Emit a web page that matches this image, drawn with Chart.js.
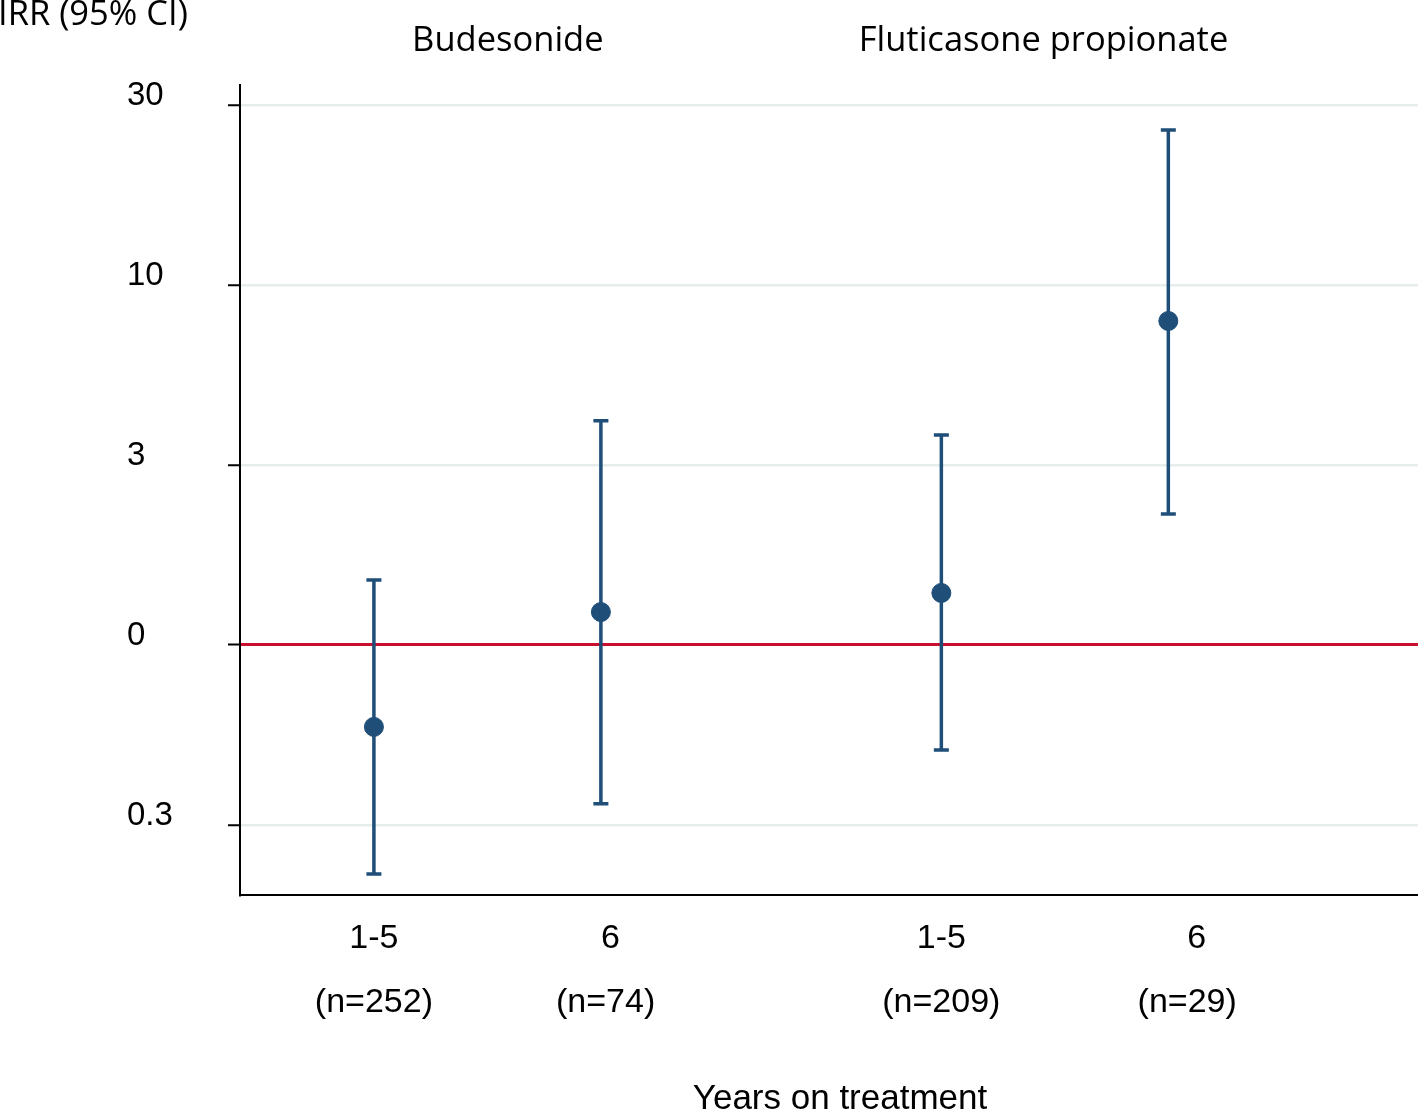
<!DOCTYPE html>
<html lang="en">
<head>
    <meta charset="UTF-8">
    <title>IRR by years on treatment</title>
    <script src="https://cdn.jsdelivr.net/npm/chart.js"></script>
    <style>
        body { margin: 0; background: #fff; }
        #wrap { width: 1418px; height: 1111px; }
    </style>
</head>
<body>
    <div id="wrap"><canvas id="irrChart"></canvas></div>

    <script>
        // y axis is evenly spaced: one step per labelled tick (0 = IRR of 1)
        const tickValues = [-1, 0, 1, 2, 3];
        const tickLabels = ['0.3', '0', '3', '10', '30'];

        // leading spaces nudge some labels right, as in the original
        const categories = [['1-5', '(n=252)'], ['  6', ' (n=74)'], ['1-5', '(n=209)'], ['      6', '    (n=29)']];
        const xPositions = [1, 2, 3.5, 4.5];
        const groups = ['Budesonide', 'Fluticasone propionate'];
        const groupCenters = [1.59, 3.95];

        // values in tick steps
        const irr = [-0.455, 0.183, 0.289, 1.800];
        const ciLow = [-1.272, -0.882, -0.583, 0.728];
        const ciHigh = [0.361, 1.246, 1.167, 2.861];

        const blue = '#1f4e79';
        const red = '#c8102e';

        // 오차 막대 그리기
        const errorBars = {
            id: 'errorBars',
            afterDatasetsDraw(chart) {
                const { ctx, scales: { x, y } } = chart;
                ctx.save();
                ctx.strokeStyle = blue;
                ctx.lineWidth = 3.5;
                for (let i = 0; i < irr.length; i++) {
                    const px = x.getPixelForValue(xPositions[i]);
                    const top = y.getPixelForValue(ciHigh[i]);
                    const bot = y.getPixelForValue(ciLow[i]);
                    ctx.beginPath();
                    ctx.moveTo(px, top); ctx.lineTo(px, bot);
                    ctx.moveTo(px - 7.5, top); ctx.lineTo(px + 7.5, top);
                    ctx.moveTo(px - 7.5, bot); ctx.lineTo(px + 7.5, bot);
                    ctx.stroke();
                }
                ctx.restore();
            }
        };

        const extraText = {
            id: 'extraText',
            afterDraw(chart) {
                const { ctx, scales: { x } } = chart;
                ctx.save();
                ctx.fillStyle = '#000';
                ctx.textBaseline = 'middle';
                ctx.font = '34.5px "Open Sans"';
                ctx.textAlign = 'left';
                ctx.fillText('IRR (95% CI)', -2, 15);
                ctx.textAlign = 'center';
                groups.forEach((g, i) => {
                    ctx.fillText(g, x.getPixelForValue(groupCenters[i]), 41);
                });
                ctx.font = '35px "Liberation Sans"';
                ctx.fillText('Years on treatment', 840, 1099);
                ctx.restore();
            }
        };

        new Chart(document.getElementById('irrChart'), {
            type: 'scatter',
            data: {
                datasets: [{
                    data: irr.map((v, i) => ({ x: xPositions[i], y: v })),
                    backgroundColor: blue,
                    borderColor: blue,
                    pointRadius: 9.5,
                    pointHoverRadius: 9.5
                }]
            },
            options: {
                responsive: true,
                maintainAspectRatio: false,
                animation: false,
                layout: { autoPadding: false, padding: { top: 85, left: 127, right: 0, bottom: 0 } },
                plugins: { legend: { display: false }, tooltip: { enabled: false } },
                scales: {
                    x: {
                        type: 'linear',
                        min: 0.41,
                        max: 5.6,
                        afterBuildTicks: s => { s.ticks = xPositions.map(v => ({ value: v })); },
                        afterFit: s => { s.height = 216; },
                        grid: { display: false, drawTicks: false },
                        border: { color: '#000', width: 2 },
                        ticks: {
                            autoSkip: false,
                            maxRotation: 0,
                            padding: 11,
                            color: '#000',
                            font: { family: '"Liberation Sans"', size: 34, lineHeight: 1.9 },
                            callback: (v, i) => categories[i]
                        }
                    },
                    y: {
                        min: -1.389,
                        max: 3.111,
                        afterBuildTicks: s => { s.ticks = tickValues.map(v => ({ value: v })); },
                        afterFit: s => { s.width = 113; },
                        grid: {
                            color: c => c.tick && c.tick.value === 0 ? red : '#e5eded',
                            lineWidth: c => c.tick && c.tick.value === 0 ? 3 : 2.5,
                            tickColor: '#000',
                            tickWidth: 2,
                            tickLength: 12
                        },
                        border: { color: '#000', width: 2 },
                        ticks: {
                            crossAlign: 'far',
                            labelOffset: -9,
                            color: '#000',
                            font: { family: '"Liberation Sans"', size: 33 },
                            callback: (v, i) => tickLabels[i]
                        }
                    }
                }
            },
            plugins: [errorBars, extraText]
        });
    </script>
</body>
</html>
